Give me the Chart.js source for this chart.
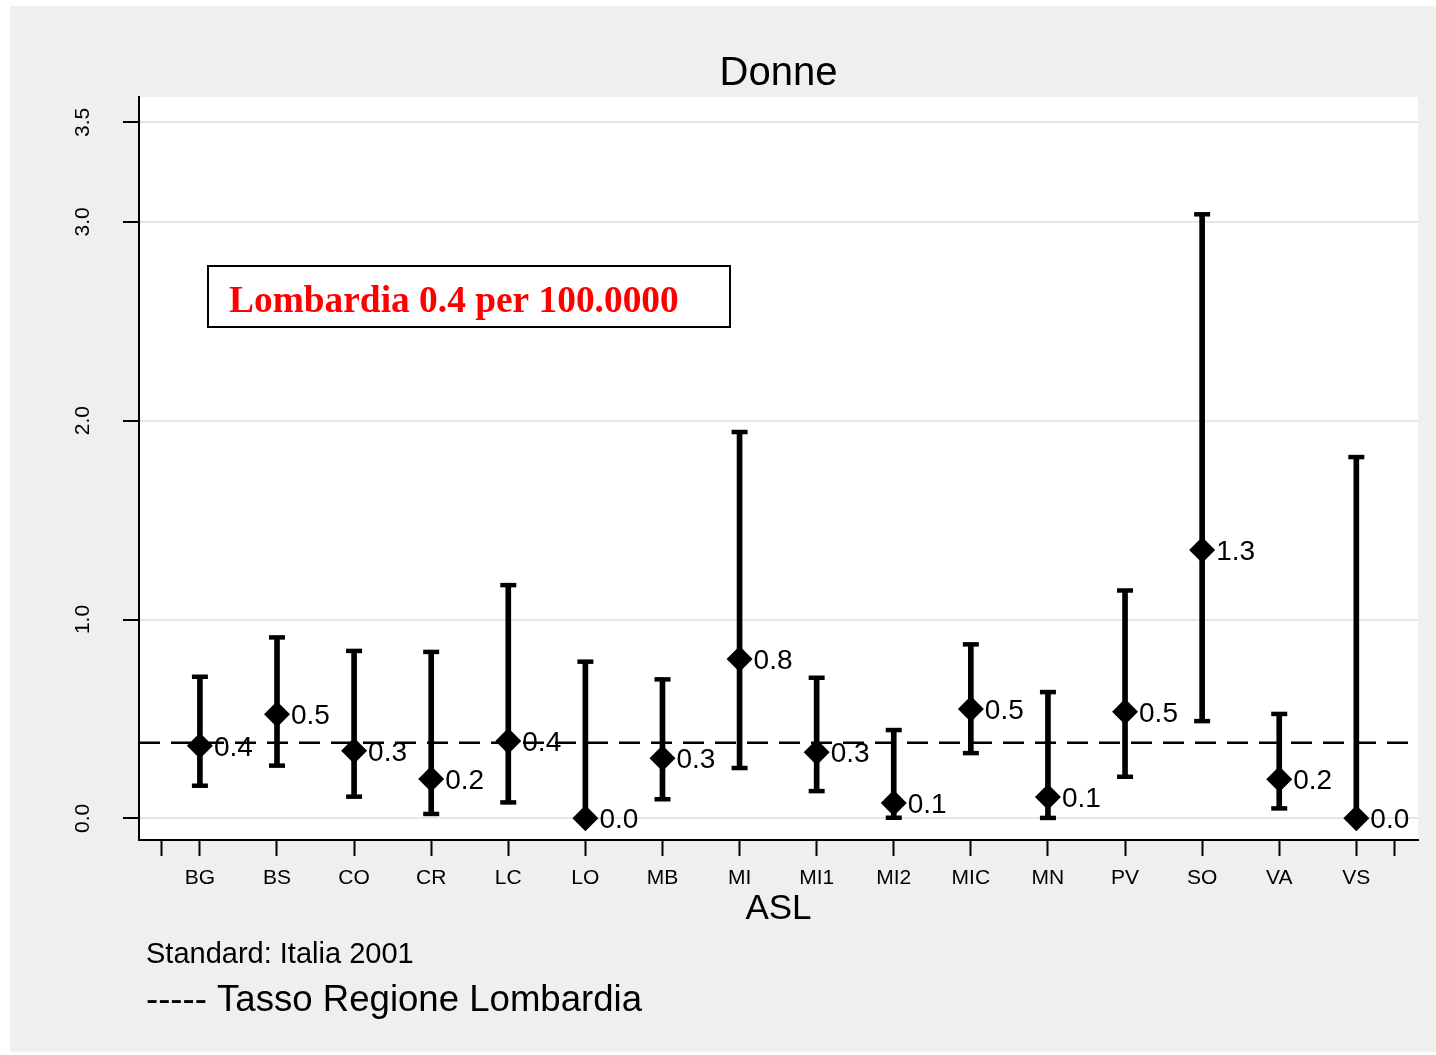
<!DOCTYPE html>
<html>
<head>
<meta charset="utf-8">
<script src="https://cdn.jsdelivr.net/npm/chart.js@4.4.1/dist/chart.umd.min.js"></script>
<style>
  html, body { margin: 0; padding: 0; background: #ffffff; }
  #wrap { width: 1436px; height: 1055px; }
</style>
</head>
<body>
<div id="wrap"><canvas id="grafico" width="1436" height="1055"></canvas></div>
<script>
// Dati (tasso per ASL, donne)
const asl = ['BG', 'BS', 'CO', 'CR', 'LC', 'LO', 'MB', 'MI', 'MI1', 'MI2', 'MIC', 'MN', 'PV', 'SO', 'VA', 'VS'];
const tasso = [0.365, 0.523, 0.340, 0.198, 0.389, 0.0, 0.302, 0.801, 0.332, 0.077, 0.550, 0.107, 0.536, 1.350, 0.196, 0.0];
const limiteInf = [0.164, 0.265, 0.109, 0.022, 0.080, 0.0, 0.096, 0.253, 0.137, 0.003, 0.328, 0.002, 0.209, 0.489, 0.050, 0.0];
const limiteSup = [0.712, 0.910, 0.842, 0.837, 1.173, 0.788, 0.699, 1.943, 0.707, 0.444, 0.875, 0.635, 1.146, 3.038, 0.525, 1.817];
const etichette = ['0.4', '0.5', '0.3', '0.2', '0.4', '0.0', '0.3', '0.8', '0.3', '0.1', '0.5', '0.1', '0.5', '1.3', '0.2', '0.0'];
const tassoLombardia = 0.38;
const yTicks = [0, 1, 2, 3, 3.5];

const FONT = '"Liberation Sans", Arial, sans-serif';

// Sfondo, testi e etichette
const decorazioni = {
    id: 'decorazioni',
    beforeDraw(chart) {
        const ctx = chart.ctx;
        const a = chart.chartArea;
        ctx.save();
        ctx.fillStyle = '#ffffff';
        ctx.fillRect(0, 0, chart.width, chart.height);
        ctx.fillStyle = '#efefef';
        ctx.fillRect(10, 6, 1426, 1046);
        ctx.fillStyle = '#ffffff';
        ctx.fillRect(a.left, a.top, a.right - a.left, a.bottom - a.top);
        ctx.restore();
    },
    afterDraw(chart) {
        const ctx = chart.ctx;
        const a = chart.chartArea;
        const ys = chart.scales.y;
        ctx.save();
        ctx.fillStyle = '#000000';

        // titolo
        ctx.font = '40px ' + FONT;
        ctx.textAlign = 'center';
        ctx.textBaseline = 'alphabetic';
        ctx.fillText('Donne', (a.left + a.right) / 2, 85);

        // titolo asse x
        ctx.font = '35px ' + FONT;
        ctx.fillText('ASL', (a.left + a.right) / 2, 919);

        // etichette asse y ruotate
        ctx.font = '21px ' + FONT;
        yTicks.forEach(v => {
            ctx.save();
            ctx.translate(89, ys.getPixelForValue(v));
            ctx.rotate(-Math.PI / 2);
            ctx.textAlign = 'center';
            ctx.textBaseline = 'alphabetic';
            ctx.fillText(v.toFixed(1), 0, 0);
            ctx.restore();
        });

        // note in basso
        ctx.textAlign = 'left';
        ctx.font = '29px ' + FONT;
        ctx.fillText('Standard: Italia 2001', 146, 963);
        ctx.font = '36.6px ' + FONT;
        ctx.fillText('----- Tasso Regione Lombardia', 146, 1011);

        // riquadro Lombardia
        ctx.fillStyle = '#ffffff';
        ctx.fillRect(208, 266, 522, 61);
        ctx.strokeStyle = '#000000';
        ctx.lineWidth = 2;
        ctx.strokeRect(208, 266, 522, 61);
        ctx.fillStyle = '#ff0000';
        ctx.font = 'bold 37.4px "Liberation Serif", "Times New Roman", serif';
        ctx.fillText('Lombardia 0.4 per 100.0000', 229, 312);
        ctx.restore();
    },
    afterDatasetsDraw(chart) {
        const ctx = chart.ctx;
        const meta = chart.getDatasetMeta(0);
        ctx.save();
        ctx.fillStyle = '#000000';
        ctx.font = '28px ' + FONT;
        ctx.textAlign = 'left';
        ctx.textBaseline = 'alphabetic';
        meta.data.forEach((pt, i) => {
            ctx.fillText(etichette[i], pt.x + 14, pt.y + 10);
        });
        ctx.restore();
    }
};

function initGrafico() {
    const el = document.getElementById('grafico');
    if (typeof Chart === 'undefined') {
        console.error('Chart.js non caricato');
        return;
    }

    const punti = asl.map((_, i) => ({ x: i, y: tasso[i] }));
    const barre = asl.map((_, i) => ({ x: i, y: [limiteInf[i], limiteSup[i]] }));
    const cappucci = [];
    asl.forEach((_, i) => {
        cappucci.push({ x: i, y: limiteInf[i] });
        cappucci.push({ x: i, y: limiteSup[i] });
    });

    new Chart(el, {
        data: {
            datasets: [
                {
                    type: 'scatter',
                    data: punti,
                    pointStyle: 'rectRot',
                    pointRadius: 13,
                    backgroundColor: '#000000',
                    borderColor: '#000000',
                    borderWidth: 0,
                    order: 0
                },
                {
                    type: 'scatter',
                    data: cappucci,
                    pointStyle: 'line',
                    pointRadius: 8,
                    borderColor: '#000000',
                    borderWidth: 4.5,
                    order: 1
                },
                {
                    type: 'bar',
                    data: barre,
                    backgroundColor: '#000000',
                    borderWidth: 0,
                    barThickness: 5,
                    order: 2
                },
                {
                    type: 'line',
                    data: [{ x: -0.79, y: tassoLombardia }, { x: 15.8, y: tassoLombardia }],
                    borderColor: '#000000',
                    borderWidth: 2.5,
                    borderDash: [21, 11],
                    pointRadius: 0,
                    order: 3
                }
            ]
        },
        options: {
            responsive: false,
            animation: false,
            layout: { padding: { top: 97, right: 18, left: 0, bottom: 0 } },
            plugins: {
                legend: { display: false },
                title: { display: false },
                tooltip: { enabled: false }
            },
            scales: {
                x: {
                    type: 'linear',
                    offset: false,
                    min: -0.79,
                    max: 15.8,
                    afterBuildTicks(scale) {
                        const t = [{ value: -0.5 }];
                        asl.forEach((_, i) => t.push({ value: i }));
                        t.push({ value: 15.5 });
                        scale.ticks = t;
                    },
                    afterFit(scale) { scale.height = 215; },
                    ticks: {
                        autoSkip: false,
                        maxRotation: 0,
                        minRotation: 0,
                        padding: 10,
                        color: '#000000',
                        font: { family: FONT, size: 21 },
                        callback: (v) => Number.isInteger(v) ? asl[v] : ''
                    },
                    grid: {
                        offset: false,
                        drawOnChartArea: false,
                        tickLength: 16,
                        tickColor: '#000000',
                        tickWidth: 2
                    },
                    border: { display: true, color: '#000000', width: 2 }
                },
                y: {
                    type: 'linear',
                    min: -0.109,
                    max: 3.628,
                    afterBuildTicks(scale) {
                        scale.ticks = yTicks.map(v => ({ value: v }));
                    },
                    afterFit(scale) { scale.width = 139; },
                    ticks: { display: false },
                    grid: {
                        color: '#e6e6e6',
                        lineWidth: 2,
                        tickLength: 16,
                        tickColor: '#000000',
                        tickWidth: 2
                    },
                    border: { display: true, color: '#000000', width: 2 }
                }
            }
        },
        plugins: [decorazioni]
    });
}

document.addEventListener('DOMContentLoaded', initGrafico);
</script>
</body>
</html>
